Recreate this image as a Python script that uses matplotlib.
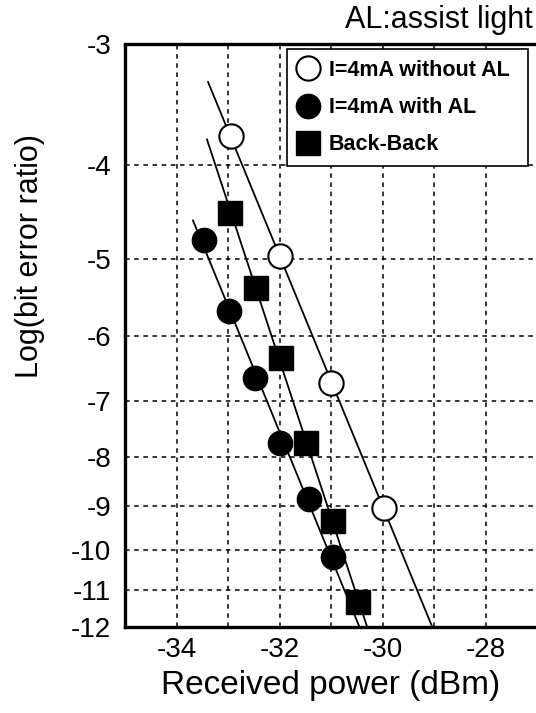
import numpy as np
import matplotlib.pyplot as plt
from matplotlib.ticker import FixedLocator

plt.rcParams["font.family"] = ["Liberation Sans", "DejaVu Sans"]

# received power (dBm) and log(BER)
open_x = [-32.95, -32.0, -31.0, -29.97]
open_y = [-3.73, -4.96, -6.71, -9.05]

filled_x = [-33.46, -32.98, -32.47, -31.99, -31.43, -30.96]
filled_y = [-4.78, -5.66, -6.63, -7.75, -8.85, -10.15]

bb_x = [-32.97, -32.45, -31.97, -31.49, -30.97, -30.47]
bb_y = [-4.48, -5.35, -6.33, -7.74, -9.33, -11.3]

# where each fitted line starts (top) in log(BER)
line_top = {"open": -3.28, "filled": -4.56, "bb": -3.76}
line_bottom = -12.0

y_ticks = [-3, -4, -5, -6, -7, -8, -9, -10, -11, -12]
x_grid = [-34, -33, -32, -31, -30, -29, -28]
x_labels = ["-34", "", "-32", "", "-30", "", "-28"]


def fwd(y):
    return -np.log10(-np.asarray(y, dtype=float))


def inv(v):
    return -10 ** (-np.asarray(v, dtype=float))


def fit_line(xs, ys, y0, y1):
    # straight line in the log(-log BER) space
    t = np.log10(-np.array(ys))
    a, b = np.polyfit(t, xs, 1)
    tt = np.log10(-np.array([y0, y1]))
    return a * tt + b, np.array([y0, y1])


fig = plt.figure(figsize=(5.36, 7.13), dpi=100)
ax = fig.add_axes([125 / 536, 1 - 627 / 713, 412 / 536, 582.5 / 713])
ax.set_yscale("function", functions=(fwd, inv))
ax.set_xlim(-35, -27)
ax.set_ylim(-12, -3)

for xs, ys, key in [(open_x, open_y, "open"), (filled_x, filled_y, "filled"), (bb_x, bb_y, "bb")]:
    lx, ly = fit_line(xs, ys, line_top[key], line_bottom)
    ax.plot(lx, ly, color="black", lw=1.3, zorder=3)

ax.plot(open_x, open_y, "o", ls="none", ms=17.5, mfc="white", mec="black", mew=1.5,
        zorder=4, label="I=4mA without AL")
ax.plot(filled_x, filled_y, "o", ls="none", ms=17.5, mfc="black", mec="black",
        zorder=4, label="I=4mA with AL")
ax.plot(bb_x, bb_y, "s", ls="none", ms=17, mfc="black", mec="black",
        zorder=4, label="Back-Back")

ax.yaxis.set_major_locator(FixedLocator(y_ticks))
ax.set_yticklabels([str(v) for v in y_ticks])
ax.yaxis.set_minor_locator(FixedLocator([]))
ax.set_xticks(x_grid)
ax.set_xticklabels(x_labels)
ax.tick_params(axis="both", length=0, labelsize=20)
ax.tick_params(axis="y", pad=10)
ax.tick_params(axis="x", pad=7)

ax.grid(True, color="black", ls=(0, (3, 3)), lw=1.1)
ax.set_axisbelow(True)

for side in ["left", "bottom", "top"]:
    ax.spines[side].set_linewidth(2.4)
ax.spines["right"].set_visible(False)

ax.set_xlabel("Received power (dBm)", fontsize=24, labelpad=5)
ax.set_ylabel("Log(bit error ratio)", fontsize=22)
ax.yaxis.set_label_coords(-0.195, 0.637)

fig.text(533 / 536, 1 - 20 / 713, "AL:assist light", fontsize=22,
         ha="right", va="center")

leg = ax.legend(loc="upper left", bbox_to_anchor=(0.393, 0.5, 0.585, 0.492),
                mode="expand", borderaxespad=0,
                prop={"weight": "bold", "size": 15.5}, frameon=True, fancybox=False,
                edgecolor="black", framealpha=1, handlelength=1.0,
                handletextpad=0.45, labelspacing=0.75, borderpad=0.5, markerscale=1.0)
leg.get_frame().set_linewidth(1.2)

fig.savefig("out.png", dpi=100)
